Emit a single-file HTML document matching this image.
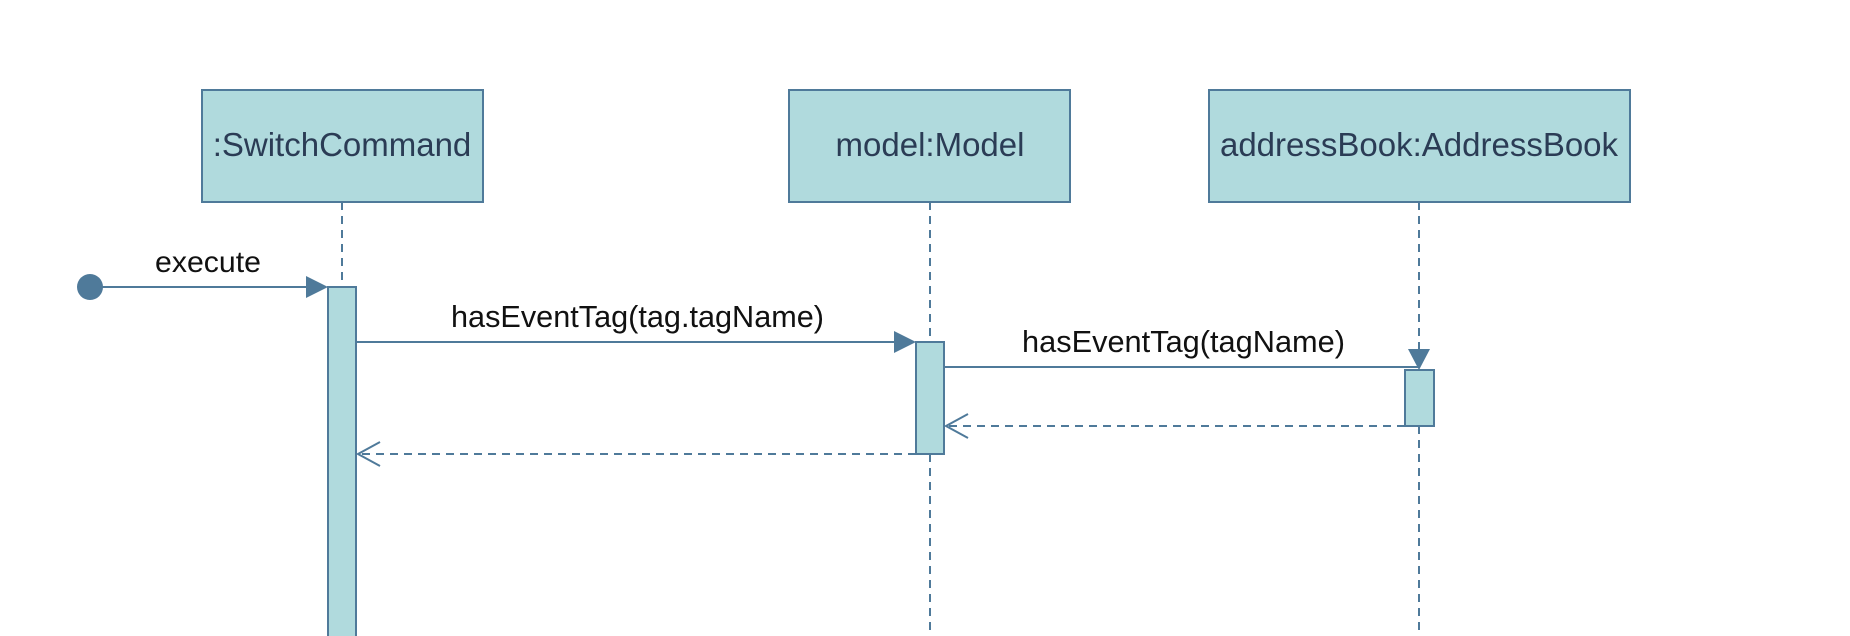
<!DOCTYPE html>
<html><head><meta charset="utf-8"><style>
html,body{margin:0;padding:0;background:#fff;}
svg{display:block;}
text{font-family:"Liberation Sans",sans-serif;}
</style></head><body>
<svg width="1850" height="636" viewBox="0 0 1850 636" xmlns="http://www.w3.org/2000/svg">
<g stroke="#4f7a9a" stroke-width="2" fill="#b0dadd">
<rect x="202" y="90" width="281" height="112"/>
<rect x="789" y="90" width="281" height="112"/>
<rect x="1209" y="90" width="421" height="112"/>
</g>
<g fill="#2b3c55" font-size="33" text-anchor="middle">
<text x="342" y="156">:SwitchCommand</text>
<text x="930" y="156">model:Model</text>
<text x="1419" y="156">addressBook:AddressBook</text>
</g>
<g stroke="#4f7a9a" stroke-width="2" stroke-dasharray="8,6" fill="none">
<line x1="342" y1="202" x2="342" y2="287"/>
<line x1="930" y1="202" x2="930" y2="342"/>
<line x1="930" y1="454" x2="930" y2="636"/>
<line x1="1419" y1="202" x2="1419" y2="356"/>
<line x1="1419" y1="426" x2="1419" y2="636"/>
<line x1="1405" y1="426" x2="946" y2="426"/>
<line x1="916" y1="454" x2="357" y2="454"/>
</g>
<g stroke="#4f7a9a" stroke-width="2" fill="none">
<line x1="90" y1="287" x2="310" y2="287"/>
<line x1="356" y1="342" x2="896" y2="342"/>
<line x1="944" y1="367" x2="1419" y2="367"/>
<polyline points="968,414 946,426 968,438"/>
<polyline points="380,442 358,454 380,466"/>
</g>
<g fill="#4f7a9a">
<circle cx="90" cy="287" r="13"/>
<polygon points="306,276 328,287 306,298"/>
<polygon points="894,331 916,342 894,353"/>
<polygon points="1408,349 1430,349 1419,370"/>
</g>
<g stroke="#4f7a9a" stroke-width="2" fill="#b0dadd">
<rect x="328" y="287" width="28" height="360"/>
<rect x="916" y="342" width="28" height="112"/>
<rect x="1405" y="370" width="29" height="56"/>
</g>
<g fill="#111" font-size="31">
<text x="155" y="272" textLength="106" lengthAdjust="spacingAndGlyphs" font-size="30">execute</text>
<text x="451" y="327" textLength="373" lengthAdjust="spacingAndGlyphs">hasEventTag(tag.tagName)</text>
<text x="1022" y="352" textLength="323" lengthAdjust="spacingAndGlyphs">hasEventTag(tagName)</text>
</g>
</svg>
</body></html>
